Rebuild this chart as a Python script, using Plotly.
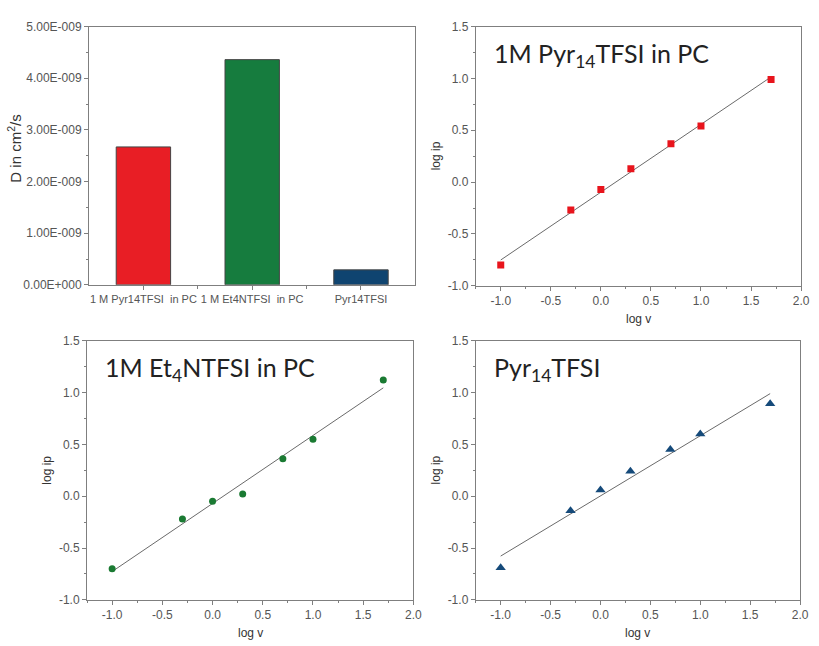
import numpy as np
import plotly.graph_objects as go

W, H = 819, 646

# ---- data ----
bar_labels = ["1 M Pyr14TFSI  in PC", "1 M Et4NTFSI  in PC", "Pyr14TFSI"]
bar_values = [2.67e-9, 4.36e-9, 0.29e-9]
bar_colors = ["#E81E25", "#167C3E", "#0F4470"]
d_ticks = [0, 1e-9, 2e-9, 3e-9, 4e-9, 5e-9]
d_ticktext = ["0.00E+000", "1.00E-009", "2.00E-009", "3.00E-009", "4.00E-009", "5.00E-009"]

log_v = [-1.0, -0.3, 0.0, 0.3, 0.7, 1.0, 1.7]
logip_pyr_pc = [-0.80, -0.27, -0.07, 0.13, 0.37, 0.54, 0.99]
logip_et4_pc = [-0.70, -0.22, -0.05, 0.02, 0.36, 0.55, 1.12]
logip_pyr_neat = [-0.69, -0.14, 0.06, 0.24, 0.45, 0.60, 0.89]

fig = go.Figure()

def px_dom(a, b, total):
    return [a / total, b / total]

def ydom(top, bottom):
    return [1 - bottom / H, 1 - top / H]

axis_common = dict(
    showline=True, linecolor="#7f7f7f", linewidth=1, mirror=True,
    ticks="outside", ticklen=4, tickcolor="#7f7f7f",
    tickfont=dict(family="Liberation Sans", size=12, color="#555555"),
    showgrid=False, zeroline=False,
)

# Panel 1: bar chart
fig.add_trace(go.Bar(
    x=[0, 1, 2], y=bar_values, width=0.5,
    marker=dict(color=bar_colors, line=dict(color="#444444", width=1)),
    xaxis="x", yaxis="y", showlegend=False,
))

layout = dict(
    width=W, height=H, margin=dict(l=0, r=0, t=0, b=0),
    paper_bgcolor="white", plot_bgcolor="white", showlegend=False,
)
layout["xaxis"] = dict(axis_common, domain=px_dom(90, 420, W), anchor="y",
                       range=[-0.5, 2.5], tickvals=[0, 1, 2], ticktext=bar_labels,
                       tickfont=dict(family="Liberation Sans", size=11, color="#555555"),
                       minor=dict(tickvals=[0.5, 1.5], ticks="outside", ticklen=3, tickcolor="#7f7f7f"))
layout["yaxis"] = dict(axis_common, domain=ydom(20, 284), anchor="x",
                       range=[0, 5e-9], tickvals=d_ticks, ticktext=d_ticktext,
                       minor=dict(dtick=0.5e-9, ticks="outside", ticklen=2, tickcolor="#7f7f7f"))

panels = [
    # (x axis name, y axis name, xdom, ydom, y data, color, symbol, size, label)
    ("x2", "y2", px_dom(481, 810, W), ydom(20, 285), logip_pyr_pc, "#E8141C", "square", 7, "1M Pyr<sub>14</sub>TFSI in PC"),
    ("x3", "y3", px_dom(88, 418, W), ydom(341, 606), logip_et4_pc, "#1A7A32", "circle", 7, "1M Et<sub>4</sub>NTFSI in PC"),
    ("x4", "y4", px_dom(481, 809, W), ydom(341, 606), logip_pyr_neat, "#154A7A", "triangle-up", 9, "Pyr<sub>14</sub>TFSI"),
]

annotations = []
for xa, ya, xd, yd, yv, col, sym, msize, lab in panels:
    slope, icpt = np.polyfit(log_v, yv, 1)
    xf = [log_v[0], log_v[-1]]
    yf = [slope * v + icpt for v in xf]
    fig.add_trace(go.Scatter(x=xf, y=yf, mode="lines", line=dict(color="#6a6a6a", width=1),
                             xaxis=xa, yaxis=ya, showlegend=False))
    fig.add_trace(go.Scatter(x=log_v, y=yv, mode="markers",
                             marker=dict(color=col, symbol=sym, size=msize),
                             xaxis=xa, yaxis=ya, showlegend=False))
    n = xa[1:]
    layout["xaxis" + n] = dict(axis_common, domain=xd, anchor=ya, range=[-1.25, 2.0],
                               tickvals=[-1.0, -0.5, 0.0, 0.5, 1.0, 1.5, 2.0],
                               ticktext=["-1.0", "-0.5", "0.0", "0.5", "1.0", "1.5", "2.0"],
                               minor=dict(dtick=0.25, tick0=0, ticks="outside", ticklen=2, tickcolor="#7f7f7f"))
    layout["yaxis" + n] = dict(axis_common, domain=yd, anchor=xa, range=[-1.0, 1.5],
                               tickvals=[-1.0, -0.5, 0.0, 0.5, 1.0, 1.5],
                               ticktext=["-1.0", "-0.5", "0.0", "0.5", "1.0", "1.5"],
                               minor=dict(dtick=0.25, tick0=0, ticks="outside", ticklen=2, tickcolor="#7f7f7f"))
    # panel label
    annotations.append(dict(text=lab, xref="paper", yref="paper",
                            x=xd[0] + 16 / W, y=yd[1] - 29 / H, xanchor="left", yanchor="middle",
                            showarrow=False, font=dict(family="Lato", size=25, color="#222222")))
    # axis titles
    annotations.append(dict(text="log v", xref="paper", yref="paper",
                            x=(xd[0] + xd[1]) / 2, y=yd[0] - 34 / H, xanchor="center", yanchor="middle",
                            showarrow=False, font=dict(family="Liberation Sans", size=12, color="#333333")))
    annotations.append(dict(text="log ip", xref="paper", yref="paper", textangle=-90,
                            x=xd[0] - 40 / W, y=(yd[0] + yd[1]) / 2, xanchor="center", yanchor="middle",
                            showarrow=False, font=dict(family="Liberation Sans", size=12, color="#333333")))

annotations.append(dict(text="D in cm<sup>2</sup>/s", xref="paper", yref="paper", textangle=-90,
                        x=15 / W, y=1 - 145 / H, xanchor="center", yanchor="middle",
                        showarrow=False, font=dict(family="Liberation Sans", size=15, color="#333333")))

layout["annotations"] = annotations
fig.update_layout(**layout)
fig.write_html("out.html")
